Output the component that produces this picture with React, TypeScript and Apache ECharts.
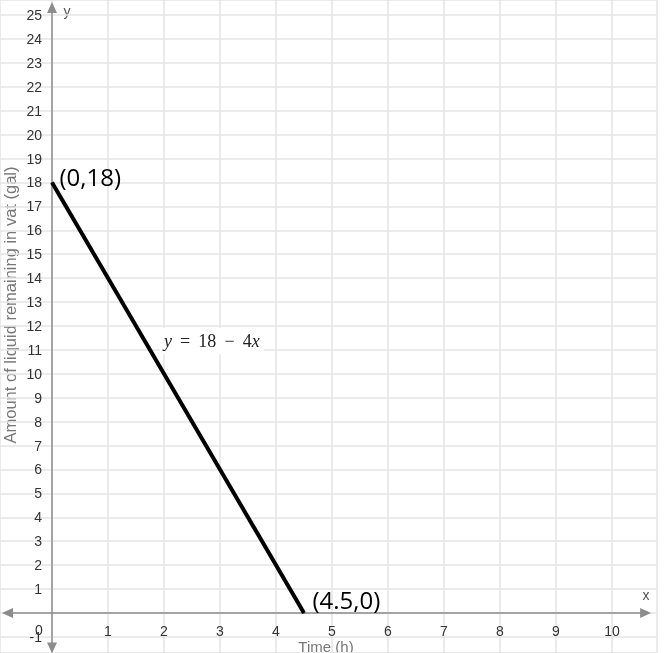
import React, { useEffect, useRef } from "react";
import * as echarts from "echarts";

// Data
const lineX = [0, 4.5];
const lineY = [18, 0];
const pointLabels = ["(0,18)", "(4.5,0)"];
const xTickValues = [1, 2, 3, 4, 5, 6, 7, 8, 9, 10];
const yTickValues = [-1, 1, 2, 3, 4, 5, 6, 7, 8, 9, 10, 11, 12, 13, 14, 15, 16, 17, 18, 19, 20, 21, 22, 23, 24, 25];
const xRange = [-0.9286, 10.8];
const yRange = [-1.672, 25.627];
const xArrowEnds = [-0.795, 10.6];
const yArrowEnds = [-1.46, 25.31];
const xTitle = "Time (h)";
const yTitle = "Amount of liquid remaining in vat (gal)";

const AXIS_COLOR = "#8c8c8c";
const GRID_COLOR = "#e4e4e4";

export default function App() {
  const ref = useRef<HTMLDivElement>(null);
  useEffect(() => {
    if (!ref.current) return;
    const chart = echarts.init(ref.current, undefined, { renderer: "svg" });
    const data = lineX.map((x, i) => ({
      value: [x, lineY[i]],
      label: {
        show: true,
        formatter: pointLabels[i],
        position: "right",
        distance: 7,
        offset: i === 0 ? [0, -6] : [1, -14],
        color: "#000",
        fontSize: 24,
        fontFamily: "Open Sans",
      },
    }));
    chart.setOption({
      animation: false,
      grid: {
        show: false,
        left: 0,
        right: 14.2,
        top: 0,
        bottom: 0,
        containLabel: false,
        outerBoundsMode: "none",
      },
      xAxis: {
        type: "value",
        min: xRange[0],
        max: xRange[1],
        splitNumber: 12,
        position: "bottom",
        offset: -40,
        axisLine: { show: false, onZero: false },
        axisTick: { show: false },
        splitLine: { show: true, lineStyle: { color: GRID_COLOR, width: 1.5 } },
        axisLabel: {
          margin: 11,
          color: "#333",
          fontSize: 14,
          fontFamily: "Liberation Sans",
          showMinLabel: false,
          showMaxLabel: false,
          formatter: (v: number) => (xTickValues.includes(v) ? String(v) : ""),
        },
      },
      yAxis: {
        type: "value",
        min: yRange[0],
        max: yRange[1],
        splitNumber: 27,
        position: "left",
        offset: -52,
        axisLine: { show: false, onZero: false },
        axisTick: { show: false },
        splitLine: { show: true, lineStyle: { color: GRID_COLOR, width: 1.5 } },
        axisLabel: {
          margin: 10,
          color: "#333",
          fontSize: 14,
          fontFamily: "Liberation Sans",
          showMinLabel: false,
          showMaxLabel: false,
          formatter: (v: number) => (yTickValues.includes(v) ? String(v) : ""),
        },
      },
      series: [
        {
          type: "line",
          data: [],
          silent: true,
          markLine: {
            silent: true,
            symbol: ["triangle", "triangle"],
            symbolSize: [10, 11],
            label: { show: false },
            lineStyle: { color: AXIS_COLOR, width: 1.5, type: "solid" },
            emphasis: { disabled: true },
            data: [
              [{ coord: [xArrowEnds[0], 0] }, { coord: [xArrowEnds[1], 0] }],
              [{ coord: [0, yArrowEnds[0]] }, { coord: [0, yArrowEnds[1]] }],
            ],
          },
        },
        {
          type: "line",
          data,
          showSymbol: true,
          symbol: "circle",
          symbolSize: 1,
          itemStyle: { color: "#000" },
          silent: true,
          lineStyle: { color: "#000", width: 4 },
          z: 5,
        },
      ],
      graphic: [
        {
          type: "text",
          x: 39,
          y: 629.5,
          style: {
            text: "0",
            fill: "#333",
            font: "14px 'Liberation Sans'",
            align: "center",
            verticalAlign: "middle",
          },
        },
        {
          type: "text",
          x: 67,
          y: 11,
          style: {
            text: "y",
            fill: "#555",
            font: "14px 'Liberation Sans'",
            align: "center",
            verticalAlign: "middle",
          },
        },
        {
          type: "text",
          x: 646,
          y: 595,
          style: {
            text: "x",
            fill: "#555",
            font: "14px 'Liberation Sans'",
            align: "center",
            verticalAlign: "middle",
          },
        },
        {
          type: "text",
          x: 326,
          y: 646,
          style: {
            text: xTitle,
            fill: "#777",
            font: "15px 'Liberation Sans'",
            align: "center",
            verticalAlign: "middle",
          },
        },
        {
          type: "text",
          x: 10,
          y: 305,
          rotation: Math.PI / 2,
          style: {
            text: yTitle,
            fill: "#777",
            font: "16.5px 'Liberation Sans'",
            align: "center",
            verticalAlign: "middle",
          },
        },
        {
          type: "text",
          x: 160,
          y: 341,
          z: 10,
          style: {
            text: "{i|y}{n| \u2009=\u2009 18 \u2009\u2212\u2009 4}{i|x}",
            backgroundColor: "#fff",
            padding: [4, 4],
            align: "left",
            verticalAlign: "middle",
            rich: {
              i: { font: "italic 18px 'Liberation Serif'", fill: "#222" },
              n: { font: "18px 'Liberation Serif'", fill: "#222" },
            },
          },
        },
      ],
    });
    return () => chart.dispose();
  }, []);
  return (
    <div
      ref={ref}
      style={{ position: "fixed", left: 0, top: 0, width: 671, height: 653 }}
    />
  );
}
